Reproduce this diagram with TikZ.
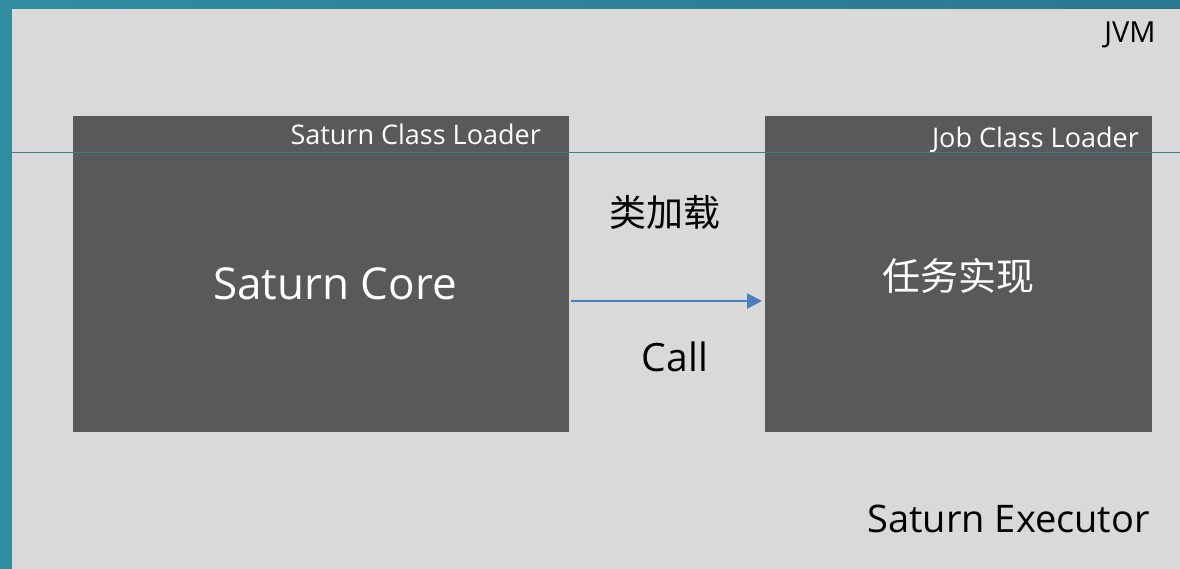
\documentclass[tikz,border=0pt]{standalone}
\usepackage{fontspec}
\setmainfont{Open Sans}
\newfontfamily\cjk{Noto Sans CJK SC}
\usetikzlibrary{arrows.meta}
\definecolor{tealL}{HTML}{2E8E9F}
\definecolor{tealR}{HTML}{2B7790}
\definecolor{panel}{HTML}{D9D9D9}
\definecolor{boxgray}{HTML}{595959}
\definecolor{sepline}{HTML}{3E7D8C}
\definecolor{arrowblue}{HTML}{4A7EBF}
\begin{document}
\begin{tikzpicture}[x=1pt,y=-1pt,
  box/.style={fill=boxgray, draw=none, anchor=north west, inner sep=0pt},
  smalllabel/.style={text=white, inner sep=0pt, font=\fontsize{27}{31}\selectfont},
  biglabel/.style={text=white, inner sep=0pt, font=\fontsize{44}{50}\selectfont},
  darklabel/.style={text=black, inner sep=0pt, font=\fontsize{38}{44}\selectfont}]
\useasboundingbox (0,0) rectangle (1180,569);
\shade[left color=tealL, right color=tealR] (0,0) rectangle (1180,569);
\fill[panel] (12,9) rectangle (1180,569);
\node[box, minimum width=496pt, minimum height=316pt] (core) at (73,116) {};
\node[box, minimum width=387pt, minimum height=316pt] (job) at (765,116) {};
\draw[sepline, line width=0.8pt] (12,152) -- (1180,152);
\node[smalllabel, anchor=base east] (scl) at (541,145) {Saturn Class Loader};
\node[smalllabel, anchor=base east] (jcl) at (1139,148) {Job Class Loader};
\node[biglabel] (corelbl) at (335,284) {Saturn Core};
\node[text=white, inner sep=0pt, font=\fontsize{38}{44}\selectfont] (joblbl) at (958,276) {\cjk 任务实现};
\node[text=black, inner sep=0pt, font=\fontsize{37}{43}\selectfont] (lj) at (665,212) {\cjk 类加载};
\node[text=black, inner sep=0pt, font=\fontsize{39}{45}\selectfont] (call) at (675,357) {Call};
\node[text=black, inner sep=0pt, font=\fontsize{29}{33}\selectfont] (jvm) at (1130,35) {JVM};
\node[darklabel, anchor=base east] (exec) at (1150,532) {Saturn Executor};
\draw[arrowblue, line width=2.2pt, -{Triangle[length=15pt,width=15pt]}, shorten <=2pt, shorten >=3pt] (core.east |- 0,301) -- (job.west |- 0,301);
\end{tikzpicture}
\end{document}
